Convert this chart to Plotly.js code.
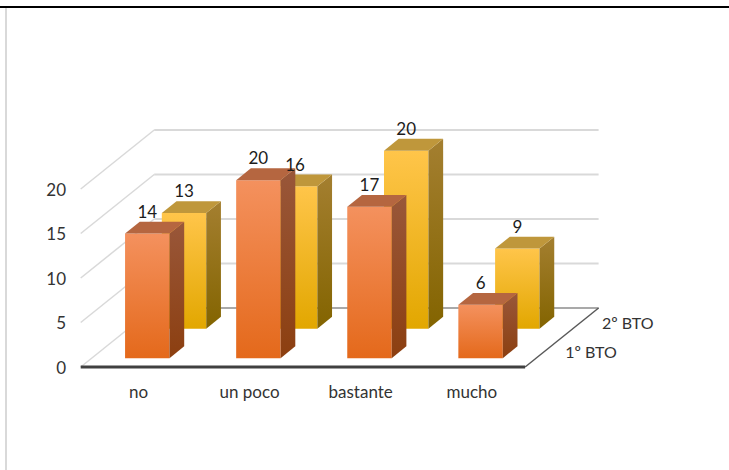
<!DOCTYPE html>
<html>
<head>
<meta charset="utf-8">
<script src="https://cdn.plot.ly/plotly-3.0.1.min.js"></script>
<style>html,body{margin:0;padding:0;background:#fff;overflow:hidden}#c{width:729px;height:470px}</style>
</head>
<body>
<div id="c"></div>
<script>
// Data
const categories = ["no", "un poco", "bastante", "mucho"];
const seriesNames = ["1º BTO", "2º BTO"];
const values1 = [14, 20, 17, 6];
const values2 = [13, 16, 20, 9];
const valueTicks = [0, 5, 10, 15, 20];

// Oblique 3-D projection, in axis units
const W = 729, H = 470, ML = 78, MT = 100, MR = 69, MB = 100;
const PXC = 111.1, PXV = 8.9;
const DEPTH_X = 73.5 / PXC, DEPTH_Y = 59 / PXV;
const GAP = 0.3, BARW = 0.4;
const DEPTHS = [[0.15, 0.35], [0.65, 0.85]];
const LEFT = -2.7 / PXC, BOTTOM = -3 / PXV;
const P = (c, d, v) => [c + d * DEPTH_X, v + d * DEPTH_Y];
const styles = [
  {front: ["#F4915E", "#E4691B"], side: ["#99573A", "#8C3F10"], top: "#B56640"},
  {front: ["#FFC54A", "#E2A700"], side: ["#A47F30", "#836400"], top: "#BF973B"}
];
const traces = [];
function poly(pts, fill, name) {
  const t = {x: pts.map(p => p[0]).concat(pts[0][0]), y: pts.map(p => p[1]).concat(pts[0][1]),
    type: "scatter", mode: "lines", fill: "toself", line: {width: 0}, hoverinfo: "skip", name: name, showlegend: false};
  if (Array.isArray(fill)) {
    t.fillgradient = {type: "vertical", colorscale: [[0, fill[1]], [1, fill[0]]]};
  } else { t.fillcolor = fill; }
  traces.push(t);
}
function line(a, b, color, width) {
  traces.push({x: [a[0], b[0]], y: [a[1], b[1]], type: "scatter", mode: "lines", cliponaxis: false,
    line: {color: color, width: width}, hoverinfo: "skip", showlegend: false});
}
// walls and floor
valueTicks.forEach(v => {
  line(P(0, 0, v), P(0, 1, v), "#d9d9d9", 1.5);
  if (v > 0) line(P(0, 1, v), P(4, 1, v), "#d9d9d9", 2);
});
line(P(0, 1, 0), P(4, 1, 0), "#8c8c8c", 1.5);
line(P(4, 0, 0), P(4, 1, 0), "#595959", 1.5);
line(P(0, 0, 0), P(4, 0, 0), "#404040", 3);

function bars(vals, s) {
  const [d0, d1] = DEPTHS[s], st = styles[s];
  vals.forEach((v, i) => {
    const a = i + GAP, b = a + BARW;
    poly([P(a, d0, 0), P(b, d0, 0), P(b, d0, v), P(a, d0, v)], st.front, seriesNames[s]);
    poly([P(b, d0, 0), P(b, d1, 0), P(b, d1, v), P(b, d0, v)], st.side, seriesNames[s]);
    poly([P(a, d0, v), P(b, d0, v), P(b, d1, v), P(a, d1, v)], st.top, seriesNames[s]);
  });
}
bars(values2, 1);
bars(values1, 0);
function labels(vals, s) {
  const pts = vals.map((v, i) => P(i + GAP + BARW / 2, DEPTHS[s][0], v + 20 / PXV));
  traces.push({x: pts.map(p => p[0]), y: pts.map(p => p[1]), text: vals.map(String), type: "scatter", mode: "text",
    textposition: "middle center", cliponaxis: false, hoverinfo: "skip", showlegend: false,
    textfont: {family: "Lato, sans-serif", size: 17, color: "#1c1c1c"}});
}
labels(values2, 1);
labels(values1, 0);
const namePts = seriesNames.map((n, s) => P(4 + 47.5 / PXC, (DEPTHS[s][0] + DEPTHS[s][1]) / 2, -2 / PXV));
traces.push({x: namePts.map(p => p[0]), y: namePts.map(p => p[1]), text: seriesNames, type: "scatter", mode: "text",
  textposition: "middle center", cliponaxis: false, hoverinfo: "skip", showlegend: false,
  textfont: {family: "Lato, sans-serif", size: 16, color: "#333"}});

const plotW = W - ML - MR, plotH = H - MT - MB;
const paperX = px => (px - ML) / plotW;
const paperY = py => (H - MB - py) / plotH;
const layout = {
  width: W, height: H, showlegend: false, paper_bgcolor: "#fff", plot_bgcolor: "rgba(0,0,0,0)",
  margin: {l: ML, r: MR, t: MT, b: MB, pad: 0},
  xaxis: {range: [LEFT, LEFT + plotW / PXC], tickvals: categories.map((c, i) => i + 0.52), ticktext: categories,
    showgrid: false, zeroline: false, showline: false, ticks: "", ticklabelstandoff: 10,
    tickfont: {family: "Lato, sans-serif", size: 17, color: "#333"}},
  yaxis: {range: [BOTTOM, BOTTOM + plotH / PXV], tickvals: valueTicks.map(v => v - 1 / PXV), ticktext: valueTicks.map(String),
    showgrid: false, zeroline: false, showline: false, ticks: "", ticklabelstandoff: 11,
    tickfont: {family: "Lato, sans-serif", size: 17, color: "#333"}},
  shapes: [
    {type: "line", xref: "paper", yref: "paper", x0: paperX(0), x1: paperX(W), y0: paperY(7), y1: paperY(7), line: {color: "#000", width: 2}},
    {type: "line", xref: "paper", yref: "paper", x0: paperX(6), x1: paperX(6), y0: paperY(8), y1: paperY(H), line: {color: "#d9d9d9", width: 2}}
  ]
};
Plotly.newPlot("c", traces, layout, {displayModeBar: false, staticPlot: true});
</script>
</body>
</html>
